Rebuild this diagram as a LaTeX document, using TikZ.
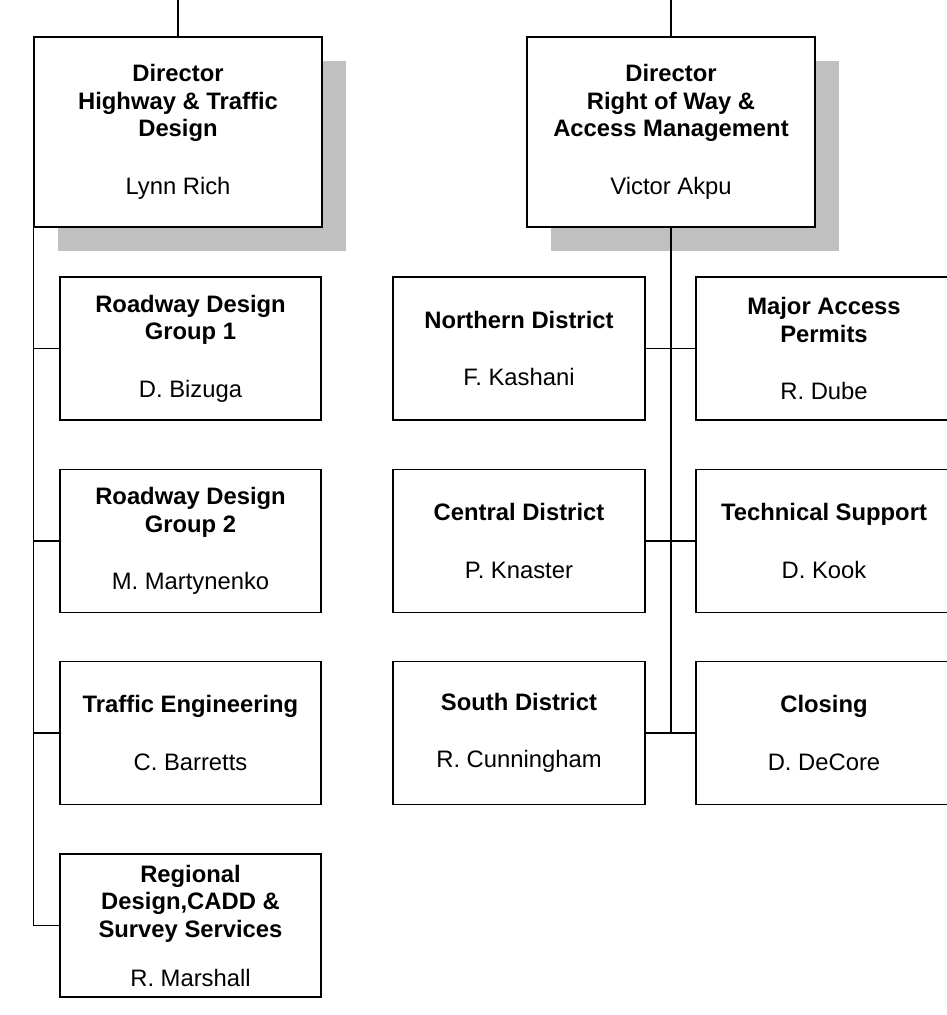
\documentclass[tikz,border=0pt]{standalone}
\usepackage{fontspec}
\setmainfont{Liberation Sans}
\usetikzlibrary{shadows}
\definecolor{shadowgray}{HTML}{C0C0C0}

\begin{document}
\begin{tikzpicture}[x=0.5pt, y=-0.5pt,
    every node/.style={font=\fontsize{11.9pt}{13.75pt}\selectfont, align=center, inner sep=0pt},
    headbox/.style={draw, fill=white, line width=0.75pt, minimum width=144pt, minimum height=95pt,
        drop shadow={shadow xshift=12pt, shadow yshift=-12pt, fill=shadowgray, opacity=1}},
    teambox/.style={draw, fill=white, line width=0.75pt, minimum width=#1, minimum height=71.5pt},
    link/.style={line width=0.6pt}]
                    \useasboundingbox (0,0) rectangle (946,1015);

                    \node [headbox] (Dh) at (178, 132) {\textbf{Director}\\\textbf{Highway \& Traffic}\\\textbf{Design}\\[15pt]Lynn Rich};
                    \node [headbox] (Dr) at (671, 132) {\textbf{Director}\\\textbf{Right of Way \&}\\\textbf{Access Management}\\[15pt]Victor Akpu};

                    \node [teambox=130.5pt] (R1) at (190.5, 348.5) {\textbf{Roadway Design}\\\textbf{Group 1}\\[15pt]D. Bizuga};
                    \node [teambox=130.5pt] (R2) at (190.5, 541) {\textbf{Roadway Design}\\\textbf{Group 2}\\[15pt]M. Martynenko};
                    \node [teambox=130.5pt] (Te) at (190.5, 733) {\textbf{Traffic Engineering}\\[15pt]C. Barretts};
                    \node [teambox=130.5pt] (Rg) at (190.5, 925.5) {\textbf{Regional}\\\textbf{Design,CADD \&}\\\textbf{Survey Services}\\[10.75pt]R. Marshall};

                    \node [teambox=126pt] (Nd) at (519, 348.5) {\textbf{Northern District}\\[15pt]F. Kashani};
                    \node [teambox=126pt] (Cd) at (519, 541) {\textbf{Central District}\\[15pt]P. Knaster};
                    \node [teambox=126pt] (Sd) at (519, 733) {\textbf{South District}\\[15pt]R. Cunningham};

                    \node [teambox=128pt] (Ma) at (824, 348.5) {\textbf{Major Access}\\\textbf{Permits}\\[15pt]R. Dube};
                    \node [teambox=128pt] (Ts) at (824, 541) {\textbf{Technical Support}\\[15pt]D. Kook};
                    \node [teambox=128pt] (Cl) at (824, 733) {\textbf{Closing}\\[15pt]D. DeCore};

                    \coordinate (Th) at (178, 0);
                    \coordinate (Tr) at (671, 0);
                    \draw [link] (Th) -- (Dh);
                    \draw [link] (Tr) -- (Dr);

                    \draw [link] (Dh.south west) |- (Rg.west);
                    \foreach \n in {R1, R2, Te}
                        \draw [link] (Dh.south west |- \n.west) -- (\n.west);

                    \draw [link] (Dr.south) -- (Dr.south |- Sd.east);
                    \foreach \a/\b in {Nd/Ma, Cd/Ts, Sd/Cl}
                        \draw [link] (\a.east) -- (\b.west);
            \end{tikzpicture}
\end{document}
